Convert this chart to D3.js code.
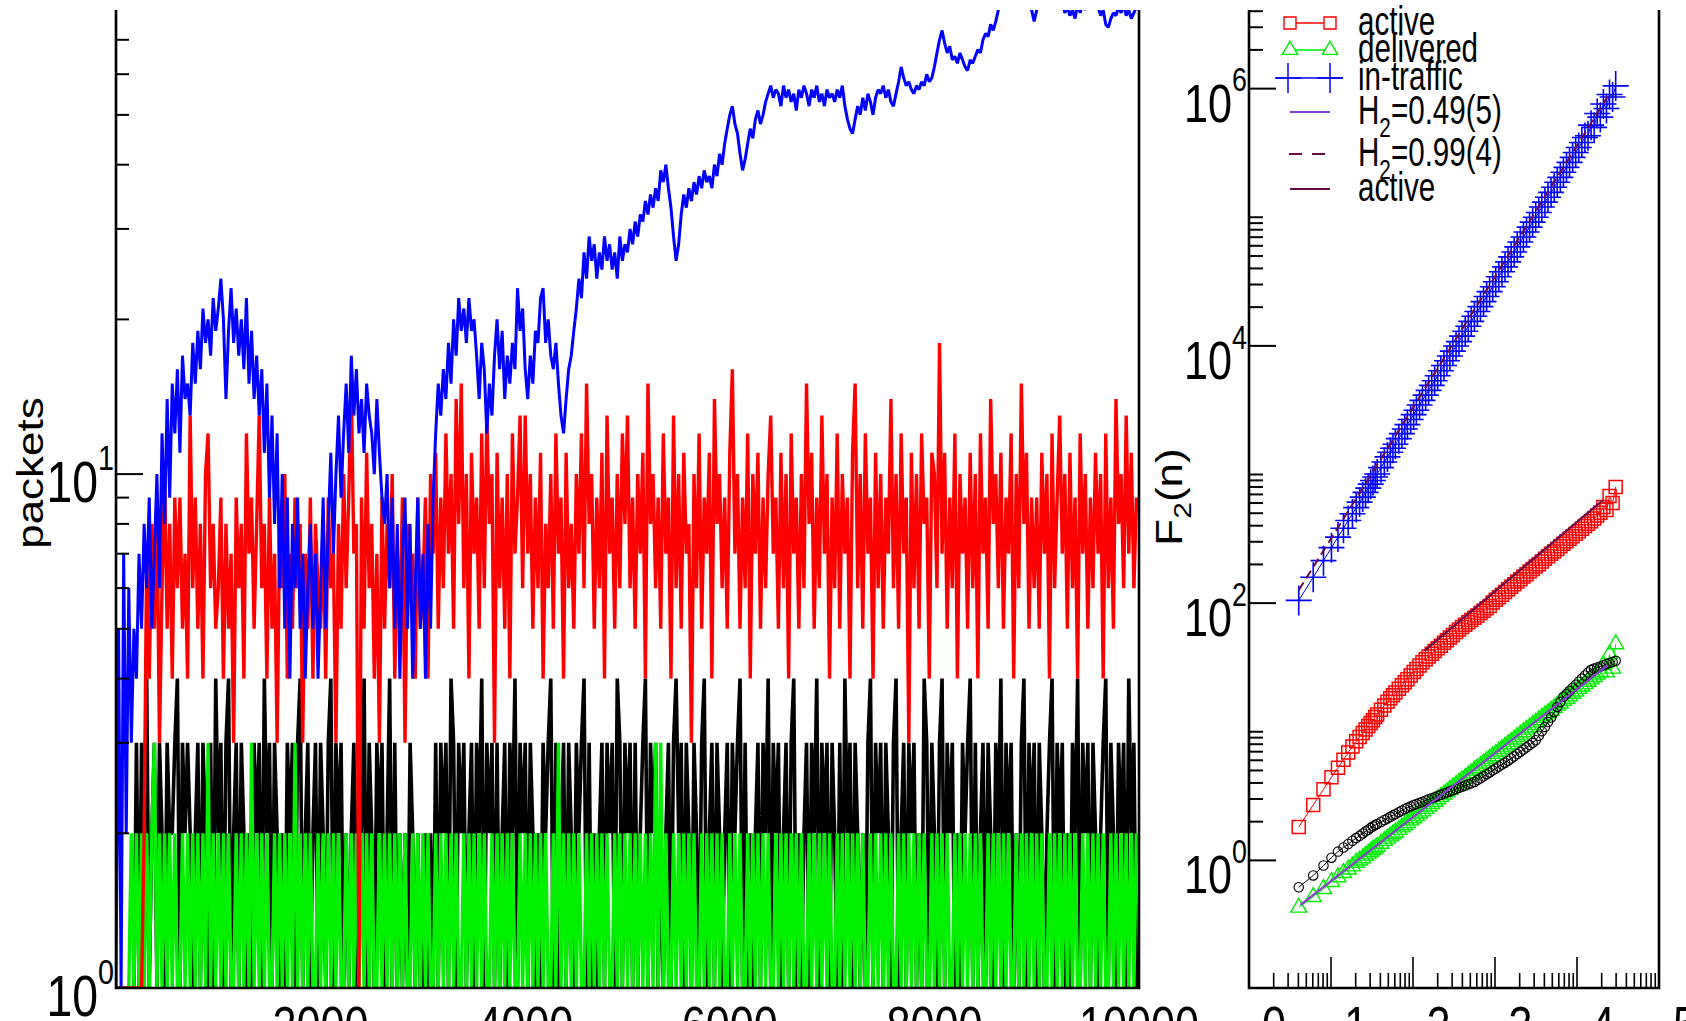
<!DOCTYPE html>
<html>
<head>
<meta charset="utf-8">
<script src="https://cdn.jsdelivr.net/npm/d3@7.9.0/dist/d3.min.js"></script>
<style>
  html, body { margin: 0; padding: 0; background: #fff; }
  svg { display: block; font-family: "Liberation Sans", Arial, sans-serif; }
</style>
</head>
<body>
<svg id="chart" width="1686" height="1021"></svg>
<script>
// ---- left panel: packet time series, one value every tStep time units ----
const tStep = 25;

const inTrafficTrace = [
  1,5,1,7,2,6,3,5,4, 7,5,8,6,9,5,7,10,6,12,8,14, 9,15,12,16,11,17,14,15,13,18,15,19,16,21,18,20,17,22,19,
  21,24,20,14,19,23,18,21,17, 20,16,22,15,19,14,17,13,16,11,15,9, 13,8,12,6,10,5,9,4,8,6,9,5,7,4,6,8,5,7,4,
  6,9,5,8,11,7,10,13,9,12,15,11,17, 13,16,12,14,11,15,13,12,10,14,11,9, 8,10,6,9,5,8,4,7,9,5,8,4,6,9,5,
  7,4,8,5,9, 12,15,13,16,14,18,15,20,17,22,19,21,18,22,19,20, 17,14,18,16,12,15,13,17,20,16,19,14,17,15,18,16,23,19,21,
  16,14,17,15,19,18,22,23,18,20,17,16,18,15,13,12,14,16,17,19, 21,24,22,27,24,29,26,28,24,27,25,29,26,28,25,27,24,29,26,28,
  27,30,28,31,29,32,31,34,32,35,33,36,34,39,37,40,36,33,29,26,28,32,35,33,36,34,37,35,38,36,39,37,38,36,40,38,42,40,44,47,
  50,52,48,46,42,39,41,44,47,45,49,51,48,50,53,55,57,54,56,55,52,57,54,56,53,55,51,56,54,57,55,52,56,54,57,53,55,52,56,54,
  55,53,56,54,57,52,49,47,46,49,52,50,54,51,55,53,50,54,56,55,57,54,56,53,52,55,58,62,59,57,58,56,55,57,56,58,57,60,58,59,
  62,66,70,73,69,66,68,64,65,63,66,64,62,61,64,63,65,67,66,70,72,71,75,73,76,80,84,82,86,83,88,85,87,84,86,83,85,82,80,76,
  80,84,87,83,86,82,88,84,85,81,83,79,81,78,80,77,82,79,83,80,84,82,86,83,81,78,80,75,74,77,79,78,81,79,82,78,80,77,79,81
];

const activeTrace = [
  1,1,1,1,1,1,1,1,1,1,1,2, 7,4,8,5,9,3,6,10,5,8,4,9,6,9,5,7,4,13,6,9,5,8,4,10,12,6,8,5,
  6,9,4,8,5,7,3,9,6,8,4,12,7,9,5,8,13,6,8,4,9,5,7,3,8,6,10,4,7,5,9,6,8,3,7,5,9,4,8,6,
  5,8,4,9,6,7,3,8,5,10,6,9,15,7,8,1,9,5,11,6,8,4,7,3,9,5,8,6,10,4,7,5,9,3,8,6,7,4,9,5,
  6,9,4,10,7,11,5,9,6,12,7,10,5,14,8,15,6,10,4,11,7,9,5,12,6,13,8,10,3,11,6,9,5,10,4,12,7,9,13,6,
  13,7,10,5,9,6,11,4,8,6,10,5,12,7,9,4,11,6,8,5,10,7,12,6,15,8,10,5,9,6,11,4,13,7,9,5,10,6,12,8,
  13,6,9,5,10,7,11,4,15,8,10,6,9,5,12,7,9,4,13,6,10,5,11,7,8,3,10,6,12,5,9,7,11,4,14,8,10,6,9,5,
  11,16,7,10,5,9,6,12,4,10,7,11,5,9,6,10,13,7,9,5,11,6,10,4,12,7,9,5,10,6,15,8,11,5,9,6,13,7,10,4,
  9,6,12,5,10,7,9,4,11,15,6,10,5,12,7,9,4,11,6,10,5,9,7,14,6,10,5,12,7,9,3,11,6,10,5,12,8,9,4,11,
  10,6,18,7,11,5,9,6,12,4,10,7,9,5,11,6,10,4,12,7,9,5,14,8,10,6,11,5,9,7,12,4,10,6,15,8,11,5,9,6,
  9,5,11,7,10,4,12,6,9,13,7,10,5,11,6,9,4,12,7,10,5,9,6,11,7,10,4,12,6,9,5,14,8,10,6,13,7,11,6,9
];

const blackTrace = [
  1,1,1,1,1,1,1,1,3,1,3,2,4,1,2,3,1,3,2,1,3,2,2,3,4,1,3,2,3,2,1,2,3,1,3,2,1,3,1,4,
  2,3,1,3,4,1,2,3,1,3,2,1,2,1,3,2,3,1,4,2,3,1,3,2,1,2,1,3,2,3,1,3,4,1,2,3,1,2,3,1,
  3,2,1,3,4,1,3,2,3,1,2,1,2,3,1,3,2,4,1,3,2,1,3,2,3,1,2,4,1,3,1,2,1,2,1,3,2,1,2,1,
  1,2,1,2,1,3,1,3,2,3,1,4,3,1,3,2,3,1,2,3,1,3,2,4,1,3,2,3,1,3,1,2,3,1,3,2,4,1,3,2,
  3,1,3,2,1,2,1,3,2,3,4,1,3,1,2,3,1,3,2,1,3,2,3,4,1,3,1,2,1,2,3,1,3,2,3,1,4,3,1,3,
  2,3,1,3,1,2,3,4,1,3,2,3,1,2,1,2,3,1,3,4,2,3,1,3,2,1,3,2,1,3,4,1,2,3,1,3,2,1,2,3,
  1,3,2,3,4,1,3,1,2,1,2,3,1,3,2,4,1,3,2,3,1,2,3,1,3,4,1,2,1,2,3,1,3,2,4,1,3,2,3,1,
  3,2,1,3,1,4,2,3,1,3,2,1,2,1,3,4,1,3,2,3,1,3,2,1,3,4,1,2,3,1,3,2,3,1,2,1,4,3,1,3,
  2,1,3,4,1,3,2,3,1,2,1,3,2,3,4,1,3,1,2,3,1,3,2,1,3,2,4,1,3,2,3,1,2,1,3,4,1,3,2,3,
  1,3,2,1,2,3,4,1,3,2,3,1,2,1,3,2,4,1,3,2,3,1,3,2,1,2,3,4,1,3,2,1,3,2,3,1,4,2,3,1
];

const deliveredTrace = [
  1,1,1,1,1,1,2,1,2,1,2,1,2,1,2,3,1,2,1,2,1,2,1,2,1,1,2,1,2,1,2,1,2,1,2,1,3,1,2,1,
  2,1,2,1,2,1,1,2,1,2,1,2,1,3,1,2,1,2,1,2,1,1,2,1,2,1,2,1,2,1,3,1,2,1,2,1,2,1,1,2,
  1,2,1,2,1,2,1,2,1,1,2,1,2,1,2,1,2,1,2,1,2,1,1,2,1,2,1,2,1,2,1,2,1,2,1,1,2,1,2,1,
  2,1,2,1,1,2,1,2,1,2,1,2,1,2,1,1,2,1,2,1,2,1,2,1,2,1,1,2,1,2,1,2,1,2,1,2,1,1,2,1,
  2,1,2,1,2,1,2,1,2,1,1,2,1,3,1,2,1,2,1,2,1,2,1,1,2,1,2,1,2,1,2,1,2,1,1,2,1,2,1,2,
  1,2,1,2,1,2,1,2,1,2,1,3,1,3,1,2,1,1,2,1,2,1,2,1,2,1,2,1,1,2,1,2,1,2,1,2,1,2,1,1,
  2,1,2,1,2,1,1,2,1,2,1,2,1,2,1,2,1,1,2,1,2,1,2,1,2,1,2,1,2,1,1,2,1,2,1,2,1,2,1,2,
  1,1,2,1,2,1,2,1,2,1,2,1,2,1,1,2,1,2,1,2,1,2,1,2,1,1,2,1,2,1,2,1,2,1,2,1,2,1,1,2,
  1,2,1,2,1,2,1,1,2,1,2,1,2,1,2,1,2,1,2,1,1,2,1,2,1,2,1,2,1,2,1,1,2,1,2,1,2,1,2,1,
  2,1,2,1,1,2,1,2,1,2,1,2,1,2,1,2,1,1,2,1,2,1,2,1,2,1,2,1,1,2,1,2,1,2,1,2,1,2,1,2
];

const timeTicks = [2000, 4000, 6000, 8000, 10000];
const packetLabels = [1, 10];

// ---- right panel: fluctuation function F2(n) ----
const windowSizes = [2,3,4,5,6,7,8,9,10,11,12,13,14,15,16,17,18,20,22,24,26,28,30,33,36,39,42,46,50,54,
  59,64,70,76,83,90,98,107,117,127,138,150,164,178,194,212,231,251,274,298,325,354,386,420,458,499,544,593,646,704,
  767,836,911,993,1082,1180,1286,1401,1527,1665,1814,1977,2155,2349,2561,2791,3042,3316,3614,3940,4294,4681,5102,5561,6061,
  6607,7201,7849,8556,9326,10165,11080,12077,13164,14349];

const f2InTraffic = [105,159,214,270,326,382,439,495,553,610,
  667,726,783,841,899,957,1010,1130,1250,1370,
  1490,1600,1720,1900,2080,2260,2440,2680,2920,3160,
  3470,3770,4140,4510,4930,5360,5850,6410,7030,7660,
  8350,9100,9980,10800,11900,13000,14200,15500,17000,18500,
  20200,22100,24200,26400,28800,31500,34500,37700,41100,45000,
  49200,53700,58800,64200,70200,76800,83800,91600,100000,109000,
  120000,131000,143000,156000,171000,187000,204000,224000,244000,267000,
  292000,319000,349000,381000,417000,430000,520000,500000,640000,600000,
  760000,700000,900000,860000,1050000];

const f2Active = [1.82,2.70,3.57,4.43,5.26,6.07,6.89,7.69,8.43,9.10,
  9.77,10.4,11.1,11.7,12.3,13.0,13.6,14.8,16.0,17.1,
  18.2,19.2,20.2,21.6,23.0,24.3,25.6,27.4,29.1,30.7,
  32.7,34.7,36.6,38.5,40.4,42.4,44.5,46.7,49.2,51.5,
  54.1,56.6,59.7,62.4,65.1,67.9,71.0,73.9,77.1,80.2,
  83.7,87.3,91.1,94.8,101,106,111,116,122,128,
  134,140,147,153,161,168,176,184,193,201,
  211,221,231,242,252,264,277,289,303,316,
  331,347,362,379,397,415,434,454,479,505,
  560,530,680,600,800];

const f2Delivered = [0.43,0.52,0.60,0.68,0.74,0.80,0.85,0.90,0.96,1.00,
  1.04,1.09,1.13,1.17,1.21,1.24,1.28,1.35,1.42,1.48,
  1.54,1.60,1.65,1.73,1.81,1.88,1.95,2.05,2.13,2.22,
  2.32,2.41,2.52,2.63,2.75,2.86,2.99,3.12,3.26,3.40,
  3.55,3.70,3.86,4.02,4.20,4.39,4.59,4.78,5.00,5.21,
  5.44,5.68,5.93,6.18,6.46,6.74,7.04,7.35,7.67,8.01,
  8.36,8.73,9.12,9.51,9.93,10.4,10.8,11.3,11.8,12.3,
  12.9,13.4,14.0,14.6,15.3,16.0,16.6,17.4,18.1,18.9,
  19.8,20.6,21.6,22.5,23.5,24.5,25.6,26.7,27.9,29.2,
  33,29,40,31,48];

const f2Black = [0.618,0.764,0.912,1.05,1.17,1.26,1.34,1.42,1.49,1.55,
  1.62,1.68,1.73,1.79,1.84,1.88,1.92,1.99,2.06,2.12,
  2.18,2.24,2.29,2.37,2.44,2.51,2.57,2.63,2.69,2.74,
  2.80,2.85,2.92,2.98,3.04,3.10,3.17,3.24,3.31,3.37,
  3.44,3.51,3.59,3.66,3.74,3.82,3.90,3.98,4.07,4.21,
  4.35,4.51,4.68,4.83,5.01,5.18,5.37,5.56,5.75,5.96,
  6.19,6.44,6.71,6.98,7.27,7.57,7.88,8.20,8.59,9.31,
  10.1,10.9,11.9,12.9,14.2,15.6,17.0,18.7,19.7,20.8,
  22.0,23.2,24.5,25.9,27.4,28.9,30.3,31.0,31.6,32.2,
  32.9,33.6,34.3,34.9,35.6];

const fitH049 = [[2.1, 0.45], [11500, 33]];
const fitH099 = [[2, 126], [11500, 870000]];
const fitActive = [[68, 42.7], [10000, 631]];

const logNLabels = [0, 1, 2, 3, 4, 5];
const f2Labels = [1, 100, 1e4, 1e6];

const legendItems = [
  { name: "active", sub: null, rest: null, kind: "square", color: "#ff0000" },
  { name: "delivered", sub: null, rest: null, kind: "triangle", color: "#00ee00" },
  { name: "in-traffic", sub: null, rest: null, kind: "cross", color: "#0000ff" },
  { name: "H", sub: "2", rest: "=0.49(5)", kind: "line", color: "#8a3fd0" },
  { name: "H", sub: "2", rest: "=0.99(4)", kind: "dash", color: "#6a0a48" },
  { name: "active", sub: null, rest: null, kind: "line", color: "#6a0a48" }
];
const legendRowY = [23, 50, 78, 112, 154, 189];

const svg = d3.select("#chart");

// ---------------- left panel ----------------
const xL = d3.scaleLinear().domain([0, 10000]).range([116, 1139]);
const yL = d3.scaleLog().domain([1, 80]).range([988, 10]);

svg.append("clipPath").attr("id", "clipL")
  .append("rect").attr("x", 116).attr("y", 10).attr("width", 1023).attr("height", 978);

const traceLine = d3.line()
  .x((d, i) => xL(i * tStep))
  .y(d => yL(Math.max(d, 1)));

const left = svg.append("g").attr("clip-path", "url(#clipL)");

[
  [blackTrace, "#000000", 3.6],
  [deliveredTrace, "#00f000", 3.4],
  [activeTrace, "#ff0000", 3.4],
  [inTrafficTrace, "#0000ff", 3]
].forEach(([values, color, w]) => {
  left.append("path")
    .attr("d", traceLine(values))
    .attr("fill", "none")
    .attr("stroke", color)
    .attr("stroke-width", w)
    .attr("stroke-linejoin", "bevel");
});

// inward ticks on the packets axis
yL.ticks().filter(v => v < 80).forEach(v => {
  let major = v === 10;
  svg.append("line")
    .attr("x1", 116).attr("x2", 116 + (major ? 27 : 13))
    .attr("y1", yL(v)).attr("y2", yL(v))
    .attr("stroke", "#000").attr("stroke-width", 2);
});

svg.append("path")
  .attr("d", `M116,10V988H1139V10`)
  .attr("fill", "none").attr("stroke", "#000").attr("stroke-width", 2.6);

function powerLabel(x, y, exp, size) {
  let t = svg.append("text")
    .attr("transform", `translate(${x},${y}) scale(0.8,1)`)
    .attr("text-anchor", "end")
    .style("font-size", size + "px");
  t.append("tspan").text("10");
  t.append("tspan").attr("dy", -size * 0.56).style("font-size", (size * 0.62) + "px").text(exp);
}

packetLabels.forEach(v => powerLabel(114, yL(v) + 28, Math.round(Math.log10(v)), 58));

timeTicks.forEach(v => {
  svg.append("text")
    .attr("transform", `translate(${xL(v)},1044) scale(0.8,1)`)
    .attr("text-anchor", "middle")
    .style("font-size", "54px")
    .text(v);
});

svg.append("text")
  .attr("transform", "translate(43,473) rotate(-90) scale(1,0.85)")
  .attr("text-anchor", "middle")
  .style("font-size", "44px")
  .text("packets");

// ---------------- right panel ----------------
const xR = d3.scaleLinear().domain([0, 5]).range([1274, 1685]);
const xRTicks = d3.scaleLog().domain([1, 1e5]).range([1249, 1659]);
const yR = d3.scaleLog().domain([0.1, 1e7]).range([989, -40]);

svg.append("clipPath").attr("id", "clipR")
  .append("rect").attr("x", 1249).attr("y", 10).attr("width", 410).attr("height", 979);

const right = svg.append("g").attr("clip-path", "url(#clipR)");

const f2Line = d3.line()
  .x((d, i) => xR(Math.log10(windowSizes[i])))
  .y(d => yR(d));

const crossPath = "M-13,0H13M0,-15V15";
const squarePath = d3.symbol(d3.symbolSquare, 169)();
const trianglePath = d3.symbol(d3.symbolTriangle, 110)();
const circlePath = d3.symbol(d3.symbolCircle, 70)();

function drawMarkers(values, path, color, w) {
  right.append("path")
    .attr("d", f2Line(values))
    .attr("fill", "none").attr("stroke", color).attr("stroke-width", 1);
  right.selectAll(null)
    .data(values)
    .enter()
    .append("path")
    .attr("d", path)
    .attr("transform", (d, i) => `translate(${xR(Math.log10(windowSizes[i]))},${yR(d)})`)
    .attr("fill", "none")
    .attr("stroke", color)
    .attr("stroke-width", w);
}

drawMarkers(f2InTraffic, crossPath, "#0000ff", 1.6);
drawMarkers(f2Active, squarePath, "#ff0000", 1.5);
drawMarkers(f2Delivered, trianglePath, "#00ee00", 1.4);
drawMarkers(f2Black, circlePath, "#000000", 1.1);

const fitLine = d3.line()
  .x(d => xR(Math.log10(d[0])))
  .y(d => yR(d[1]));

right.append("path").attr("d", fitLine(fitH099))
  .attr("fill", "none").attr("stroke", "#6a0a48").attr("stroke-width", 2).attr("stroke-dasharray", "9,5");
right.append("path").attr("d", fitLine(fitActive))
  .attr("fill", "none").attr("stroke", "#6a0a48").attr("stroke-width", 2.2);
right.append("path").attr("d", fitLine(fitH049))
  .attr("fill", "none").attr("stroke", "#8a3fd0").attr("stroke-width", 2.2);

// y ticks: minor ticks only in decades starting at an even power
yR.ticks().forEach(v => {
  let e = Math.floor(Math.log10(v) + 1e-9);
  let isPow = Math.abs(v - Math.pow(10, e)) < 1e-6 * v;
  if (v <= 0.1 || v > 5e6) return;
  let even = e % 2 === 0;
  let len;
  if (isPow && even) len = 27;
  else if ((!isPow && even) || (isPow && !even)) len = 14;
  else return;
  svg.append("line")
    .attr("x1", 1249).attr("x2", 1249 + len)
    .attr("y1", yR(v)).attr("y2", yR(v))
    .attr("stroke", "#000").attr("stroke-width", 2);
});

xRTicks.ticks().forEach(v => {
  if (v <= 1 || v >= 1e5) return;
  let e = Math.floor(Math.log10(v) + 1e-9);
  let isPow = Math.abs(v - Math.pow(10, e)) < 1e-6 * v;
  svg.append("line")
    .attr("x1", xRTicks(v)).attr("x2", xRTicks(v))
    .attr("y1", 988).attr("y2", 988 - (isPow ? 31 : 15))
    .attr("stroke", "#000").attr("stroke-width", 1.6);
});

svg.append("path")
  .attr("d", `M1249,10V988H1659V10`)
  .attr("fill", "none").attr("stroke", "#000").attr("stroke-width", 2.6);

f2Labels.forEach(v => powerLabel(1247, yR(v) + 33, Math.round(Math.log10(v)), 54));

logNLabels.forEach(v => {
  svg.append("text")
    .attr("transform", `translate(${xR(v)},1044) scale(0.8,1)`)
    .attr("text-anchor", "middle")
    .style("font-size", "54px")
    .text(v);
});

let yTitle = svg.append("text")
  .attr("transform", "translate(1182,497) rotate(-90) scale(1,0.82)")
  .attr("text-anchor", "middle")
  .style("font-size", "44px");
yTitle.append("tspan").text("F");
yTitle.append("tspan").attr("dy", 11).style("font-size", "30px").text("2");
yTitle.append("tspan").attr("dy", -11).text("(n)");

// legend
legendItems.forEach((item, i) => {
  let y = legendRowY[i];
  let g = svg.append("g");
  if (item.kind === "dash") {
    g.append("line").attr("x1", 1289).attr("x2", 1331).attr("y1", y).attr("y2", y)
      .attr("stroke", item.color).attr("stroke-width", 2.2).attr("stroke-dasharray", "13,10");
  } else if (item.kind === "cross") {
    g.append("line").attr("x1", 1276).attr("x2", 1343).attr("y1", y).attr("y2", y)
      .attr("stroke", item.color).attr("stroke-width", 1.5);
    [1288, 1330].forEach(cx => {
      g.append("path").attr("d", crossPath).attr("transform", `translate(${cx},${y})`)
        .attr("fill", "none").attr("stroke", item.color).attr("stroke-width", 1.5);
    });
  } else {
    g.append("line").attr("x1", 1290).attr("x2", 1330).attr("y1", y).attr("y2", y)
      .attr("stroke", item.color).attr("stroke-width", item.kind === "line" ? 2.2 : 1.4);
    if (item.kind !== "line") {
      let p = item.kind === "square" ? d3.symbol(d3.symbolSquare, 144)() : d3.symbol(d3.symbolTriangle, 100)();
      [1290, 1330].forEach(cx => {
        g.append("path").attr("d", p).attr("transform", `translate(${cx},${y})`)
          .attr("fill", "#fff").attr("stroke", item.color).attr("stroke-width", 1.4);
      });
    }
  }
  let t = g.append("text")
    .attr("transform", `translate(1358,${y + 12}) scale(0.74,1)`)
    .style("font-size", "40px");
  t.append("tspan").text(item.name);
  if (item.sub) {
    t.append("tspan").attr("dy", 13).style("font-size", "28px").text(item.sub);
    t.append("tspan").attr("dy", -13).text(item.rest);
  }
});
</script>
</body>
</html>
